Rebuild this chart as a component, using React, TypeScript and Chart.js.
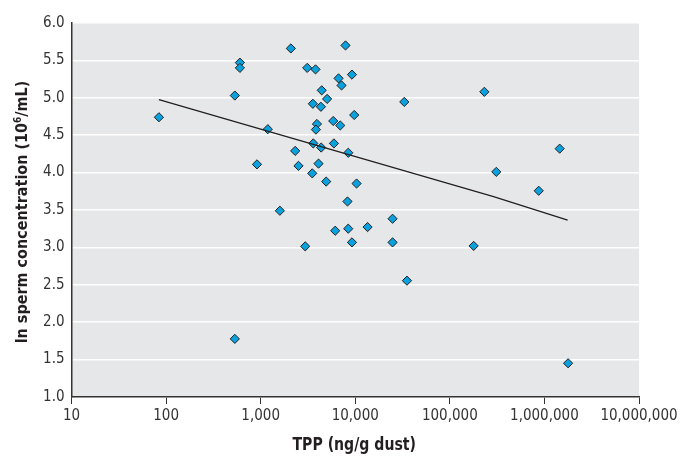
import React, { useEffect, useRef } from "react";
import { Chart, registerables } from "chart.js";

Chart.register(...registerables);

// TPP (ng/g dust) values
const tppValues = [
  84, 533, 603, 603, 2085, 1190, 915, 2317, 2512, 1596,
  3105, 3800, 4420, 5040, 3565, 4335, 3935, 3840, 3600, 4365,
  4090, 3510, 4930, 5850, 5950, 6660, 7160, 6940, 7890, 9230,
  33000, 231700, 9750, 8440, 1450000, 310000, 871000, 10330, 8280, 24800,
  6140, 8430, 13500, 9230, 24800, 178600, 35200, 1780000, 2958, 533,
];
// ln sperm concentration values
const spermValues = [
  4.74, 5.03, 5.47, 5.40, 5.66, 4.58, 4.11, 4.29, 4.09, 3.49,
  5.40, 5.38, 5.10, 4.985, 4.92, 4.88, 4.65, 4.575, 4.39, 4.335,
  4.12, 3.99, 3.88, 4.69, 4.39, 5.26, 5.165, 4.63, 5.70, 5.31,
  4.945, 5.08, 4.77, 4.265, 4.32, 4.01, 3.757, 3.854, 3.614, 3.383,
  3.223, 3.25, 3.272, 3.067, 3.067, 3.02, 2.555, 1.451, 3.014, 1.777,
];
// regression line
const trendTpp = [84, 290000, 1760000];
const trendSperm = [4.976, 3.68, 3.366];

const xTickValues = [10, 100, 1000, 10000, 100000, 1000000, 10000000];
const xTickLabels = ["10", "100", "1,000", "10,000", "100,000", "1,000,000", "10,000,000"];
const yMin = 1.0;
const yMax = 6.0;
const yStep = 0.5;

const xTitle = "TPP (ng/g dust)";
const yTitleBefore = "ln sperm concentration (10";
const yTitleSup = "6";
const yTitleAfter = "/mL)";

const FONT = "'Liberation Sans Narrow', 'DejaVu Sans Condensed', 'Roboto', Arial, sans-serif";

const bgPlugin = {
  id: "plotBg",
  beforeDraw(chart: any) {
    const { ctx, chartArea } = chart;
    ctx.save();
    ctx.fillStyle = "#e6e7e9";
    ctx.fillRect(chartArea.left, chartArea.top, chartArea.right - chartArea.left, chartArea.bottom - chartArea.top);
    ctx.restore();
  },
};

const titlesPlugin = {
  id: "titles",
  afterDraw(chart: any) {
    const { ctx, chartArea } = chart;
    ctx.save();
    ctx.fillStyle = "#231f20";
    // x title (slightly condensed)
    ctx.save();
    ctx.font = `bold 18px ${FONT}`;
    ctx.textAlign = "center";
    ctx.textBaseline = "alphabetic";
    ctx.translate((chartArea.left + chartArea.right) / 2 - 1, 449.5);
    ctx.scale(0.87, 1);
    ctx.fillText(xTitle, 0, 0);
    ctx.restore();

    // y title (rotated, with superscript)
    const cy = (chartArea.top + chartArea.bottom) / 2 + 2;
    ctx.translate(27, cy);
    ctx.rotate(-Math.PI / 2);
    ctx.textAlign = "left";
    const mainFont = `bold 16px ${FONT}`;
    const supFont = `bold 10px ${FONT}`;
    ctx.font = mainFont;
    const w1 = ctx.measureText(yTitleBefore).width;
    const w3 = ctx.measureText(yTitleAfter).width;
    ctx.font = supFont;
    const w2 = ctx.measureText(yTitleSup).width;
    const total = w1 + w2 + w3;
    let x = -total / 2;
    ctx.font = mainFont;
    ctx.fillText(yTitleBefore, x, 0);
    x += w1;
    ctx.font = supFont;
    ctx.fillText(yTitleSup, x, -6);
    x += w2;
    ctx.font = mainFont;
    ctx.fillText(yTitleAfter, x, 0);
    ctx.restore();
  },
};

export default function App() {
  const canvasRef = useRef<HTMLCanvasElement | null>(null);

  useEffect(() => {
    document.body.style.margin = "0";
    const canvas = canvasRef.current;
    if (!canvas) return;
    const points = tppValues.map((v, i) => ({ x: v, y: spermValues[i] }));
    const trend = trendTpp.map((v, i) => ({ x: v, y: trendSperm[i] }));

    const chart = new Chart(canvas, {
      type: "scatter",
      data: {
        datasets: [
          {
            data: trend,
            showLine: true,
            borderColor: "#231f20",
            borderWidth: 1.3,
            pointRadius: 0,
            fill: false,
          },
          {
            data: points,
            pointStyle: "rectRot",
            pointRadius: 4.6,
            pointBackgroundColor: "#0aa2de",
            pointBorderColor: "#231f20",
            pointBorderWidth: 1,
          },
        ],
      },
      options: {
        animation: false,
        responsive: false,
        maintainAspectRatio: false,
        devicePixelRatio: 1,
        layout: { padding: { left: 0, top: 23, right: 42, bottom: 0 } },
        plugins: {
          legend: { display: false },
          tooltip: { enabled: false },
          title: { display: false },
        },
        scales: {
          x: {
            type: "logarithmic",
            min: 10,
            max: 10000000,
            afterBuildTicks(scale: any) {
              scale.ticks = xTickValues.map((v) => ({ value: v }));
            },
            afterFit(scale: any) {
              scale.height = 60;
            },
            ticks: {
              autoSkip: false,
              maxRotation: 0,
              minRotation: 0,
              padding: 3,
              color: "#333333",
              font: { family: FONT, size: 15 },
              callback: (value: any) => {
                const idx = xTickValues.indexOf(Number(value));
                return idx >= 0 ? xTickLabels[idx] : "";
              },
            },
            grid: {
              drawOnChartArea: false,
              drawTicks: true,
              tickLength: 7,
              tickColor: "#333",
              tickWidth: 1,
            },
            border: { display: true, color: "#333", width: 1.5 },
          },
          y: {
            min: yMin,
            max: yMax,
            afterFit(scale: any) {
              scale.width = 71.5;
            },
            ticks: {
              stepSize: yStep,
              padding: 7,
              color: "#333333",
              font: { family: FONT, size: 15 },
              callback: (value: any) => Number(value).toFixed(1),
            },
            grid: {
              color: "#ffffff",
              lineWidth: 1.5,
              drawTicks: false,
            },
            border: { display: true, color: "#333", width: 1.5 },
          },
        },
      },
      plugins: [bgPlugin, titlesPlugin],
    });
    return () => chart.destroy();
  }, []);

  return (
    <div style={{ position: "absolute", left: 0, top: 0, width: 681, height: 457, background: "#fff" }}>
      <canvas ref={canvasRef} width={681} height={457} style={{ width: 681, height: 457, display: "block" }} />
    </div>
  );
}
